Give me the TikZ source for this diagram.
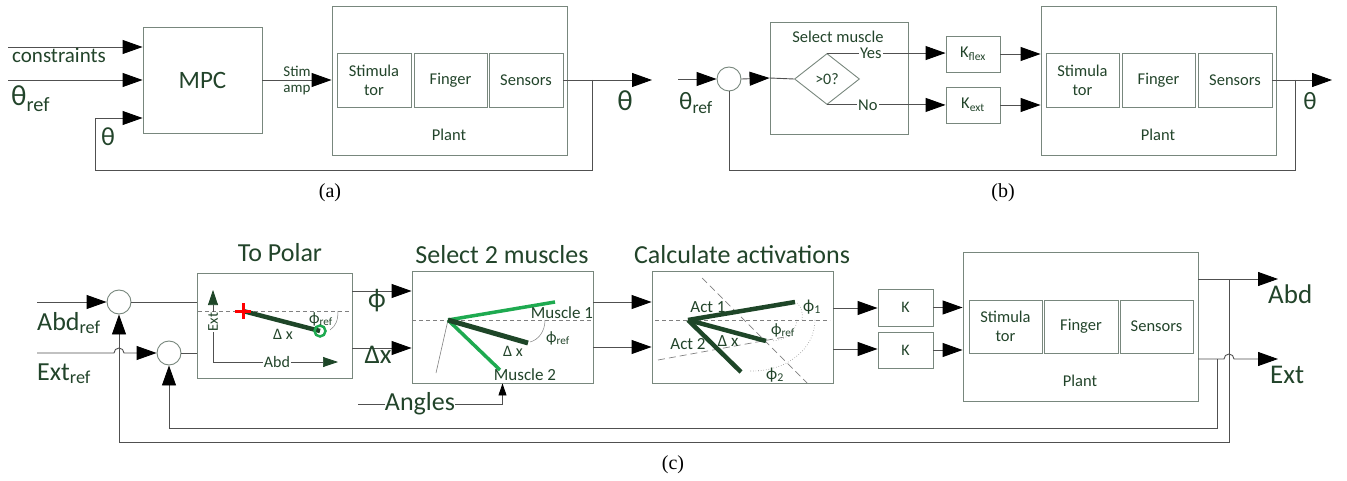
\documentclass[tikz,border=0pt]{standalone}
\usepackage{fontspec}
\setmainfont{Carlito}
\newfontfamily\capfont{Liberation Serif}
\usetikzlibrary{arrows.meta,shapes.geometric}
\definecolor{txt}{RGB}{34,68,42}
\definecolor{boxc}{RGB}{120,135,125}
\definecolor{linec}{RGB}{80,80,80}
\definecolor{dkg}{RGB}{30,70,40}
\definecolor{ltg}{RGB}{30,170,80}
\newcommand\lowtxt[1]{\textsubscript{#1}}
\begin{document}
\begin{tikzpicture}[x=1pt,y=-1pt,
  fs/.style={font=\fontsize{#1}{#1}\selectfont},
  box/.style={draw=boxc, line width=0.9pt, text=txt, inner sep=0pt, align=center, font=\fontsize{16.5}{19}\selectfont},
  sumc/.style={circle, draw=boxc, line width=0.9pt, minimum size=24pt, inner sep=0pt},
  conn/.style={draw=linec, line width=0.9pt},
  arr/.style={conn, -{Triangle[length=20pt,width=14pt,color=black]}},
  sarr/.style={conn, -{Triangle[length=12pt,width=8pt,color=black]}},
  dkarr/.style={draw=linec, line width=0.7pt, -{Triangle[length=15pt,width=10pt,color=dkg]}},
  lbl/.style={text=txt, inner sep=0pt},
  dsh/.style={draw=gray, line width=0.7pt, dash pattern=on 4pt off 3pt},
  dshl/.style={draw=gray, line width=0.7pt, dash pattern=on 7pt off 4pt},
  dtarc/.style={draw=gray, line width=0.6pt, dotted},
  caplbl/.style={font=\capfont\fontsize{20}{20}\selectfont, inner sep=0pt}
]
\useasboundingbox (0,0) rectangle (1347,481);

% ================= (a) =================
\node[box, minimum width=119pt, minimum height=106pt, fs=25] (mpc) at (202.5,80) {MPC};
\node[box, minimum width=235pt, minimum height=149pt] (plantA) at (449.5,80.5) {};
\node[box, minimum width=74pt, minimum height=54pt] (stimA) at (374,80) {Stimula\\tor};
\node[box, minimum width=73pt, minimum height=54pt] (fingA) at (450.5,80) {Finger};
\node[box, minimum width=74pt, minimum height=54pt] (sensA) at (526,80) {Sensors};
\node[lbl, fs=16.5] (plantAl) at (449,135) {Plant};

\coordinate (consA) at (8,47);
\coordinate (refA) at (8,80);
\draw[arr] (consA) -- (consA -| mpc.west);
\draw[arr] (refA) -- (refA -| mpc.west);
\node[lbl, fs=21, anchor=base west] (consL) at (12,63) {constraints};
\node[lbl, fs=29, anchor=base west] (refAL) at (11,106) {θ\lowtxt{ref}};

\draw[arr] (mpc.east) -- (mpc.east -| plantA.west);
\node[lbl, fs=15] (stimL) at (297,71) {Stim};
\node[lbl, fs=15] (ampL) at (297,90) {amp};

\coordinate (outA) at (652,80);
\draw[arr] (sensA.east) -- (outA);
\node[lbl, fs=29] (thA) at (625,101) {θ};
\coordinate (fbA) at (592,80);
\coordinate (fbA2) at (95,118);
\draw[arr] (fbA) |- (95,170) -- (fbA2) -- (fbA2 -| mpc.west);
\node[lbl, fs=26] (thA2) at (108,137) {θ};
\node[caplbl] (capA) at (330,193) {(a)};

% ================= (b) =================
\node[sumc] (sumB) at (729,79) {};
\coordinate (inB) at (678,79);
\draw[arr] (inB) -- (sumB.west);
\node[lbl, fs=25, anchor=base west] (refBL) at (679,110) {θ\lowtxt{ref}};

\node[box, minimum width=138pt, minimum height=112pt] (selB) at (839,78) {};
\node[lbl, fs=16.5] (selBL) at (838,37) {Select muscle};
\node[diamond, draw=boxc, line width=0.9pt, minimum width=65pt, minimum height=51pt, inner sep=0pt, text=txt, fs=16] (dia) at (827,79) {>0?};
\draw[arr] (sumB.east) -- (selB.west);
\draw[conn] (selB.west) -- (dia.west);

\node[box, minimum width=54pt, minimum height=36pt] (kf) at (973,54) {K\lowtxt{flex}};
\node[box, minimum width=54pt, minimum height=36pt] (ke) at (973,105) {K\lowtxt{ext}};
\draw[arr] (dia.north) -- (dia.north -| kf.west) node[pos=0.37, lbl, fill=white, inner xsep=1pt, fs=16.5] {Yes};
\draw[arr] (dia.south) -- (dia.south -| ke.west) node[pos=0.345, lbl, fill=white, inner xsep=1pt, fs=16.5] {No};

\node[box, minimum width=235pt, minimum height=149pt] (plantB) at (1158.5,80.5) {};
\node[box, minimum width=73pt, minimum height=54pt] (stimB) at (1082.5,80) {Stimula\\tor};
\node[box, minimum width=73pt, minimum height=54pt] (fingB) at (1158.5,80) {Finger};
\node[box, minimum width=74pt, minimum height=54pt] (sensB) at (1235,80) {Sensors};
\node[lbl, fs=16.5] (plantBl) at (1158,135) {Plant};
\draw[arr] (kf.east) -- (kf.east -| plantB.west);
\draw[arr] (ke.east) -- (ke.east -| plantB.west);

\coordinate (outB) at (1332,80);
\draw[arr] (sensB.east) -- (outB);
\node[lbl, fs=25] (thB) at (1310,101) {θ};
\coordinate (fbB) at (1295,80);
\coordinate (fbB2) at (729,170);
\draw[conn] (fbB) |- (fbB2) -- (sumB.south);
\node[caplbl] (capB) at (1003,193) {(b)};

% ================= (c) =================
\node[sumc] (s1) at (119,302) {};
\node[sumc] (s2) at (169,353) {};
\coordinate (inAbd) at (37,302);
\coordinate (inExt) at (37,353);
\draw[arr] (inAbd) -- (s1.west);
\draw[arr] (inExt) -- (114,353) arc[start angle=180, end angle=0, radius=5pt] -- (s2.west);
\node[lbl, fs=26, anchor=base west] (abdRef) at (37,330) {Abd\lowtxt{ref}};
\node[lbl, fs=26, anchor=base west] (extRef) at (37,380) {Ext\lowtxt{ref}};

% To Polar
\node[box, minimum width=155pt, minimum height=105pt] (pol) at (274.5,325.5) {};
\node[lbl, fs=26] (polT) at (280,253) {To Polar};
\draw[conn] (s1.east) -- (s1.east -| pol.west);
\draw[conn] (s2.east) -- (s2.east -| pol.west);
\draw[dsh] (198,311) -- (352,311);
\coordinate (ax0) at (213,362);
\draw[dkarr] (ax0) -- (213,290);
\draw[dkarr] (ax0) -- (338,362);
\node[lbl, fill=white, inner sep=1pt, fs=15, rotate=90] (extAx) at (213,322) {Ext};
\node[lbl, fill=white, inner sep=1pt, fs=16] (abdAx) at (277,362) {Abd};
\coordinate (pc) at (243,311);
\coordinate (pe) at (320,331);
\draw[gray, line width=0.5pt] (338,311) .. controls (338,320) and (336,326) .. (330,330);
\draw[dkg, line width=4.5pt] (pc) -- (pe);
\draw[ltg, line width=2.5pt] (pe) circle[radius=5.5pt];
\draw[red, line width=3pt] (235,311) -- (251,311) (243,303) -- (243,319);
\node[lbl, fs=16] (dxP) at (283,334) {Δ x};
\node[lbl, fs=16] (phP) at (321,319) {ϕ\lowtxt{ref}};

% Select 2 muscles
\node[box, minimum width=181pt, minimum height=112pt] (sel2) at (502.5,327) {};
\node[lbl, fs=26] (selT) at (502,255) {Select 2 muscles};
\coordinate (po1) at (352,291);
\coordinate (po2) at (352,348);
\draw[arr] (po1) -- (po1 -| sel2.west);
\draw[arr] (po2) -- (po2 -| sel2.west);
\node[lbl, fs=27] (phiL) at (377,301) {ϕ};
\node[lbl, fs=27] (dxL) at (378,355) {Δx};
\draw[dsh] (412,320) -- (593,320);
\coordinate (sp) at (448,320);
\draw[gray, line width=0.6pt] (sp) -- (436,373);
\draw[gray, line width=0.5pt] (545,320) .. controls (545,332) and (538,340) .. (530,342);
\draw[ltg, line width=3.5pt] (sp) -- (555,302);
\draw[ltg, line width=3.5pt] (sp) -- (500,370);
\draw[dkg, line width=5pt] (sp) -- (528,343);
\node[lbl, fs=17] (m1) at (562,313) {Muscle 1};
\node[lbl, fs=17] (m2) at (525,375) {Muscle 2};
\node[lbl, fs=16] (dxS) at (513,351) {Δ x};
\node[lbl, fs=16] (phS) at (558,338) {ϕ\lowtxt{ref}};

\node[lbl, fs=26] (ang) at (420,404) {Angles};
\coordinate (angS) at (358,404);
\draw[conn] (angS) -- (ang.west);
\draw[sarr] (ang.east) -| (sel2.south);

% Calculate activations
\node[box, minimum width=181pt, minimum height=112pt] (calc) at (742.5,327) {};
\node[lbl, fs=26] (calcT) at (742,255) {Calculate activations};
\coordinate (so1) at (593,302);
\coordinate (so2) at (593,347);
\draw[arr] (so1) -- (so1 -| calc.west);
\draw[arr] (so2) -- (so2 -| calc.west);
\draw[dsh] (655,320) -- (830,320);
\draw[dshl] (702,278) -- (807,383);
\draw[dshl] (658,360) -- (790,336);
\coordinate (cp) at (688,320);
\draw[dtarc] (797,303) .. controls (802,307) and (803,314) .. (802,320);
\draw[dtarc] (797,320) .. controls (796,332) and (786,340) .. (772,341);
\draw[dtarc] (815,320) .. controls (815,350) and (785,372) .. (750,371);
\draw[dkg, line width=4.5pt] (cp) -- (795,302);
\draw[dkg, line width=4.5pt] (cp) -- (766,341);
\draw[dkg, line width=4.5pt] (cp) -- (741,372);
\node[lbl, fs=17] (a1) at (708,307) {Act 1};
\node[lbl, fs=17] (a2) at (688,344) {Act 2};
\node[lbl, fs=17] (dxC) at (728,341) {Δ x};
\node[lbl, fs=17] (ph1) at (812,307) {ϕ\lowtxt{1}};
\node[lbl, fs=16] (phC) at (783,330) {ϕ\lowtxt{ref}};
\node[lbl, fs=17] (ph2) at (775,375) {ϕ\lowtxt{2}};

% K boxes
\node[box, minimum width=55pt, minimum height=37pt, fs=16] (k1) at (905.5,307.5) {K};
\node[box, minimum width=55pt, minimum height=36pt, fs=16] (k2) at (905.5,350) {K};
\coordinate (co1) at (833,308);
\coordinate (co2) at (833,349);
\draw[arr] (co1) -- (co1 -| k1.west);
\draw[arr] (co2) -- (co2 -| k2.west);

% Plant (c)
\node[box, minimum width=235pt, minimum height=149pt] (plantC) at (1080.5,326.5) {};
\node[box, minimum width=73pt, minimum height=53pt] (stimC) at (1005.5,326.5) {Stimula\\tor};
\node[box, minimum width=74pt, minimum height=53pt] (fingC) at (1081,326.5) {Finger};
\node[box, minimum width=73pt, minimum height=53pt] (sensC) at (1156.5,326.5) {Sensors};
\node[lbl, fs=16.5] (plantCl) at (1080,381) {Plant};
\draw[arr] (k1.east) -- (k1.east -| plantC.west);
\draw[arr] (k2.east) -- (k2.east -| plantC.west);

\coordinate (aO) at (1198,279);
\coordinate (eO) at (1198,359);
\draw[arr] (aO) -- (1278,279);
\draw[arr] (eO) -- (1224,359) arc[start angle=180, end angle=0, radius=5pt] -- (1278,359);
\node[lbl, fs=27, anchor=base west] (abdO) at (1268,303) {Abd};
\node[lbl, fs=27, anchor=base west] (extO) at (1270,383) {Ext};

\coordinate (fa) at (1229,279);
\coordinate (fe) at (1217,359);
\draw[arr] (fa) |- (119,442) -- (s1.south);
\draw[arr] (fe) |- (169,428) -- (s2.south);
\node[caplbl] (capC) at (673,465) {(c)};
\end{tikzpicture}
\end{document}
